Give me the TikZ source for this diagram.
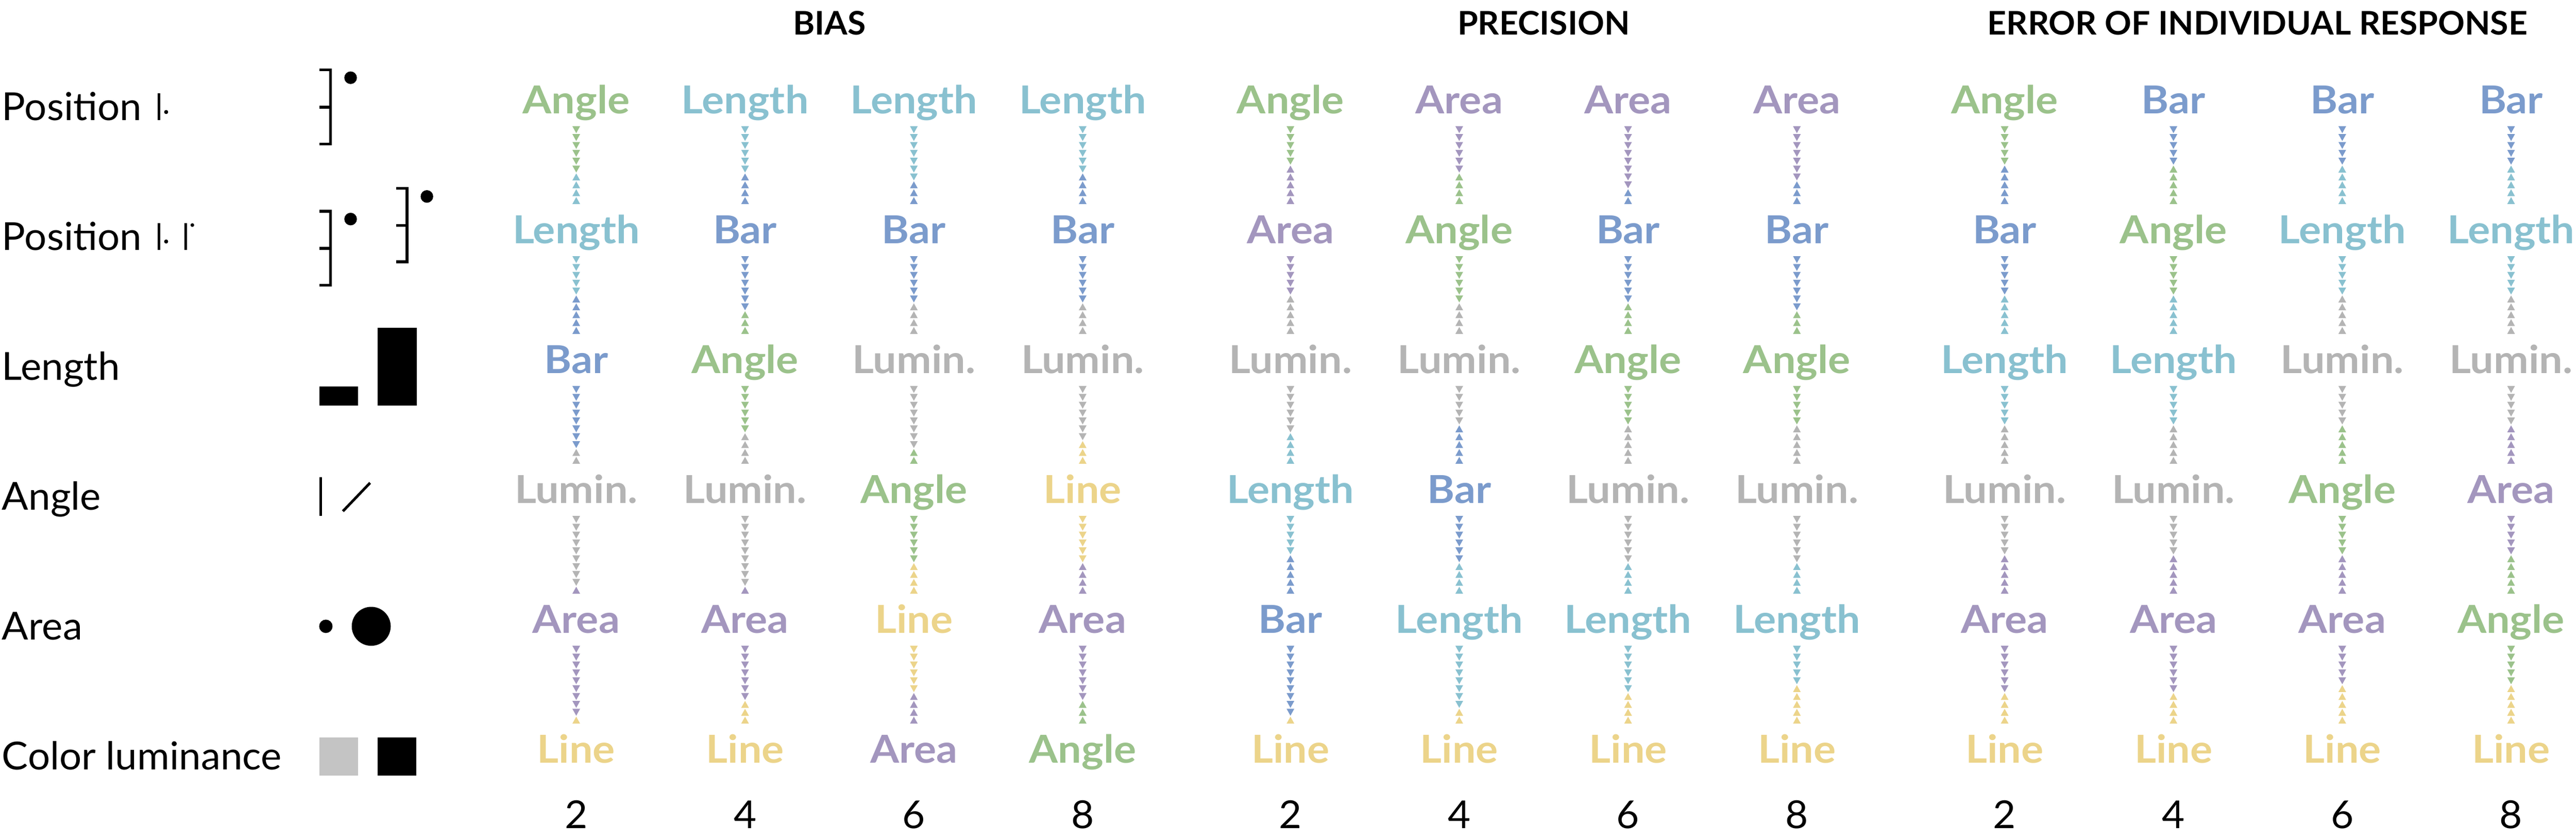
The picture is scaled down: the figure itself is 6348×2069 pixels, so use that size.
\documentclass[tikz,border=0pt]{standalone}
\usepackage{fontspec}
\setmainfont{Lato}[FakeStretch=1.02,BoldFeatures={FakeStretch=1.08}]
\newfontfamily\hdrfont{Lato}[FakeStretch=1.02,BoldFeatures={FakeStretch=1.02}]
\usetikzlibrary{calc}
\definecolor{cAngle}{HTML}{9BC28B}
\definecolor{cLength}{HTML}{89C1D0}
\definecolor{cBar}{HTML}{7B9BCC}
\definecolor{cLumin}{HTML}{B4B4B4}
\definecolor{cArea}{HTML}{A396BE}
\definecolor{cLine}{HTML}{ECD48A}
\definecolor{cGrey}{HTML}{C4C4C4}
\def\tAngle{Angle}
\def\tLength{Length}
\def\tBar{Bar}
\def\tLumin{Lumin.}
\def\tArea{Area}
\def\tLine{Line}
% triangle chain drawn upward from the lower node #1
\newcommand\tchain[4]{%
  \foreach \i in {0,...,9}{%
    \ifnum\i<#2\relax
      \fill[#3] ($(#1.base)+(-9.5,-289+19.4*\i)$) -- ++(19,0) -- ++(-9.5,17) -- cycle;
    \else
      \fill[#4] ($(#1.base)+(0,-289+19.4*\i)$) -- ++(9.5,17) -- ++(-19,0) -- cycle;
    \fi
  }%
}
\newcommand\mkcol[3]{%
  \foreach \k/\n [count=\r from 0, remember=\k as \pk (initially Angle), remember=\n as \pn (initially 0)] in {#3}{%
    \node[lab,text=c\k] (#2-\r) at (#1,280+320*\r) {\csname t\k\endcsname};
    \ifnum\r>0\relax
      \tchain{#2-\r}{\pn}{c\pk}{c\k}
    \fi
  }%
}
\begin{document}
\begin{tikzpicture}[x=0.1pt,y=-0.1pt,
  lab/.style={anchor=base,inner sep=0pt,font=\bfseries\fontsize{9.5}{11}\selectfont},
  side/.style={anchor=base west,inner sep=0pt,font=\fontsize{9.5}{11}\selectfont},
  hdr/.style={anchor=base,inner sep=0pt,font=\hdrfont\bfseries\fontsize{8}{10}\selectfont},
  num/.style={anchor=base,inner sep=0pt,font=\fontsize{9.5}{11}\selectfont},
  icon/.style={line width=0.65pt}]
\fill[white] (0,0) rectangle (6348,2069);
\useasboundingbox (0,0) rectangle (6348,2069);

% headers
\node[hdr] (h1) at (2044,86) {BIAS};
\node[hdr] (h2) at (3804,86) {PRECISION};
\node[hdr] (h3) at (5563,86) {ERROR OF INDIVIDUAL RESPONSE};

% side labels
\node[side] (s0) at (3,296) {Position};
\node[side] (s1) at (3,616) {Position};
\node[side] (s2) at (3,936) {Length};
\node[side] (s3) at (3,1256) {Angle};
\node[side] (s4) at (3,1576) {Area};
\node[side] (s5) at (3,1896) {Color luminance};

% glyph marks after "Position"
\fill ($(s0.base east)+(36.5,-66)$) rectangle ++(7,66);
\fill ($(s0.base east)+(58,-20)$) circle[radius=5];
\fill ($(s1.base east)+(36.5,-66)$) rectangle ++(7,66);
\fill ($(s1.base east)+(58,-21)$) circle[radius=5];
\fill ($(s1.base east)+(102.5,-66)$) rectangle ++(7,66);
\fill ($(s1.base east)+(122.5,-61.5)$) circle[radius=4.5];

% icons
\draw[icon] (787,172) -- (814,172) -- (814,355) -- (787,355);
\draw[icon] (787,264) -- (814,264);
\fill (864,191.5) circle[radius=15.5];
\draw[icon] (787,520.5) -- (814,520.5) -- (814,702.5) -- (787,702.5);
\draw[icon] (787,612) -- (814,612);
\fill (864,539.7) circle[radius=15.5];
\draw[icon] (976.5,464) -- (1003,464) -- (1003,645) -- (976.5,645);
\draw[icon] (976.5,555.4) -- (1003,555.4);
\fill (1052,484) circle[radius=15.5];
\fill (786.7,951.7) rectangle (882.7,999.3);
\fill (930.7,807.7) rectangle (1026.7,999.3);
\draw[icon] (790.6,1176) -- (790.6,1271);
\draw[icon] (845,1259.5) -- (912,1189.6);
\fill (803,1543) circle[radius=16.5];
\fill (914.8,1543) circle[radius=48];
\fill[cGrey] (787,1817) rectangle (882.5,1911);
\fill (931,1817) rectangle (1026,1911);

% BIAS
\mkcol{1420}{b1}{Angle/6,Length/5,Bar/8,Lumin/9,Area/9,Line/0}
\mkcol{1836}{b2}{Length/6,Bar/7,Angle/6,Lumin/9,Area/7,Line/0}
\mkcol{2252}{b3}{Length/7,Bar/6,Lumin/8,Angle/6,Line/6,Area/0}
\mkcol{2668}{b4}{Length/6,Bar/6,Lumin/7,Line/6,Area/7,Angle/0}
% PRECISION
\mkcol{3180}{p1}{Angle/5,Area/5,Lumin/6,Length/5,Bar/9,Line/0}
\mkcol{3596}{p2}{Area/6,Angle/6,Lumin/5,Bar/6,Length/8,Line/0}
\mkcol{4012}{p3}{Area/8,Bar/6,Angle/5,Lumin/6,Length/6,Line/0}
\mkcol{4428}{p4}{Area/7,Bar/7,Angle/5,Lumin/6,Length/5,Line/0}
% ERROR OF INDIVIDUAL RESPONSE
\mkcol{4940}{e1}{Angle/5,Bar/5,Length/5,Lumin/5,Area/6,Line/0}
\mkcol{5356}{e2}{Bar/5,Angle/5,Length/5,Lumin/5,Area/6,Line/0}
\mkcol{5772}{e3}{Bar/5,Length/5,Lumin/5,Angle/5,Area/5,Line/0}
\mkcol{6188}{e4}{Bar/5,Length/5,Lumin/5,Area/5,Angle/5,Line/0}

% bottom numbers
\foreach \g/\gx in {b/1420,p/3180,e/4940}{
  \foreach \v [count=\c from 0] in {2,4,6,8}{
    \node[num] (n\g\c) at (\gx+416*\c,2041) {\v};
  }
}
\end{tikzpicture}
\end{document}
